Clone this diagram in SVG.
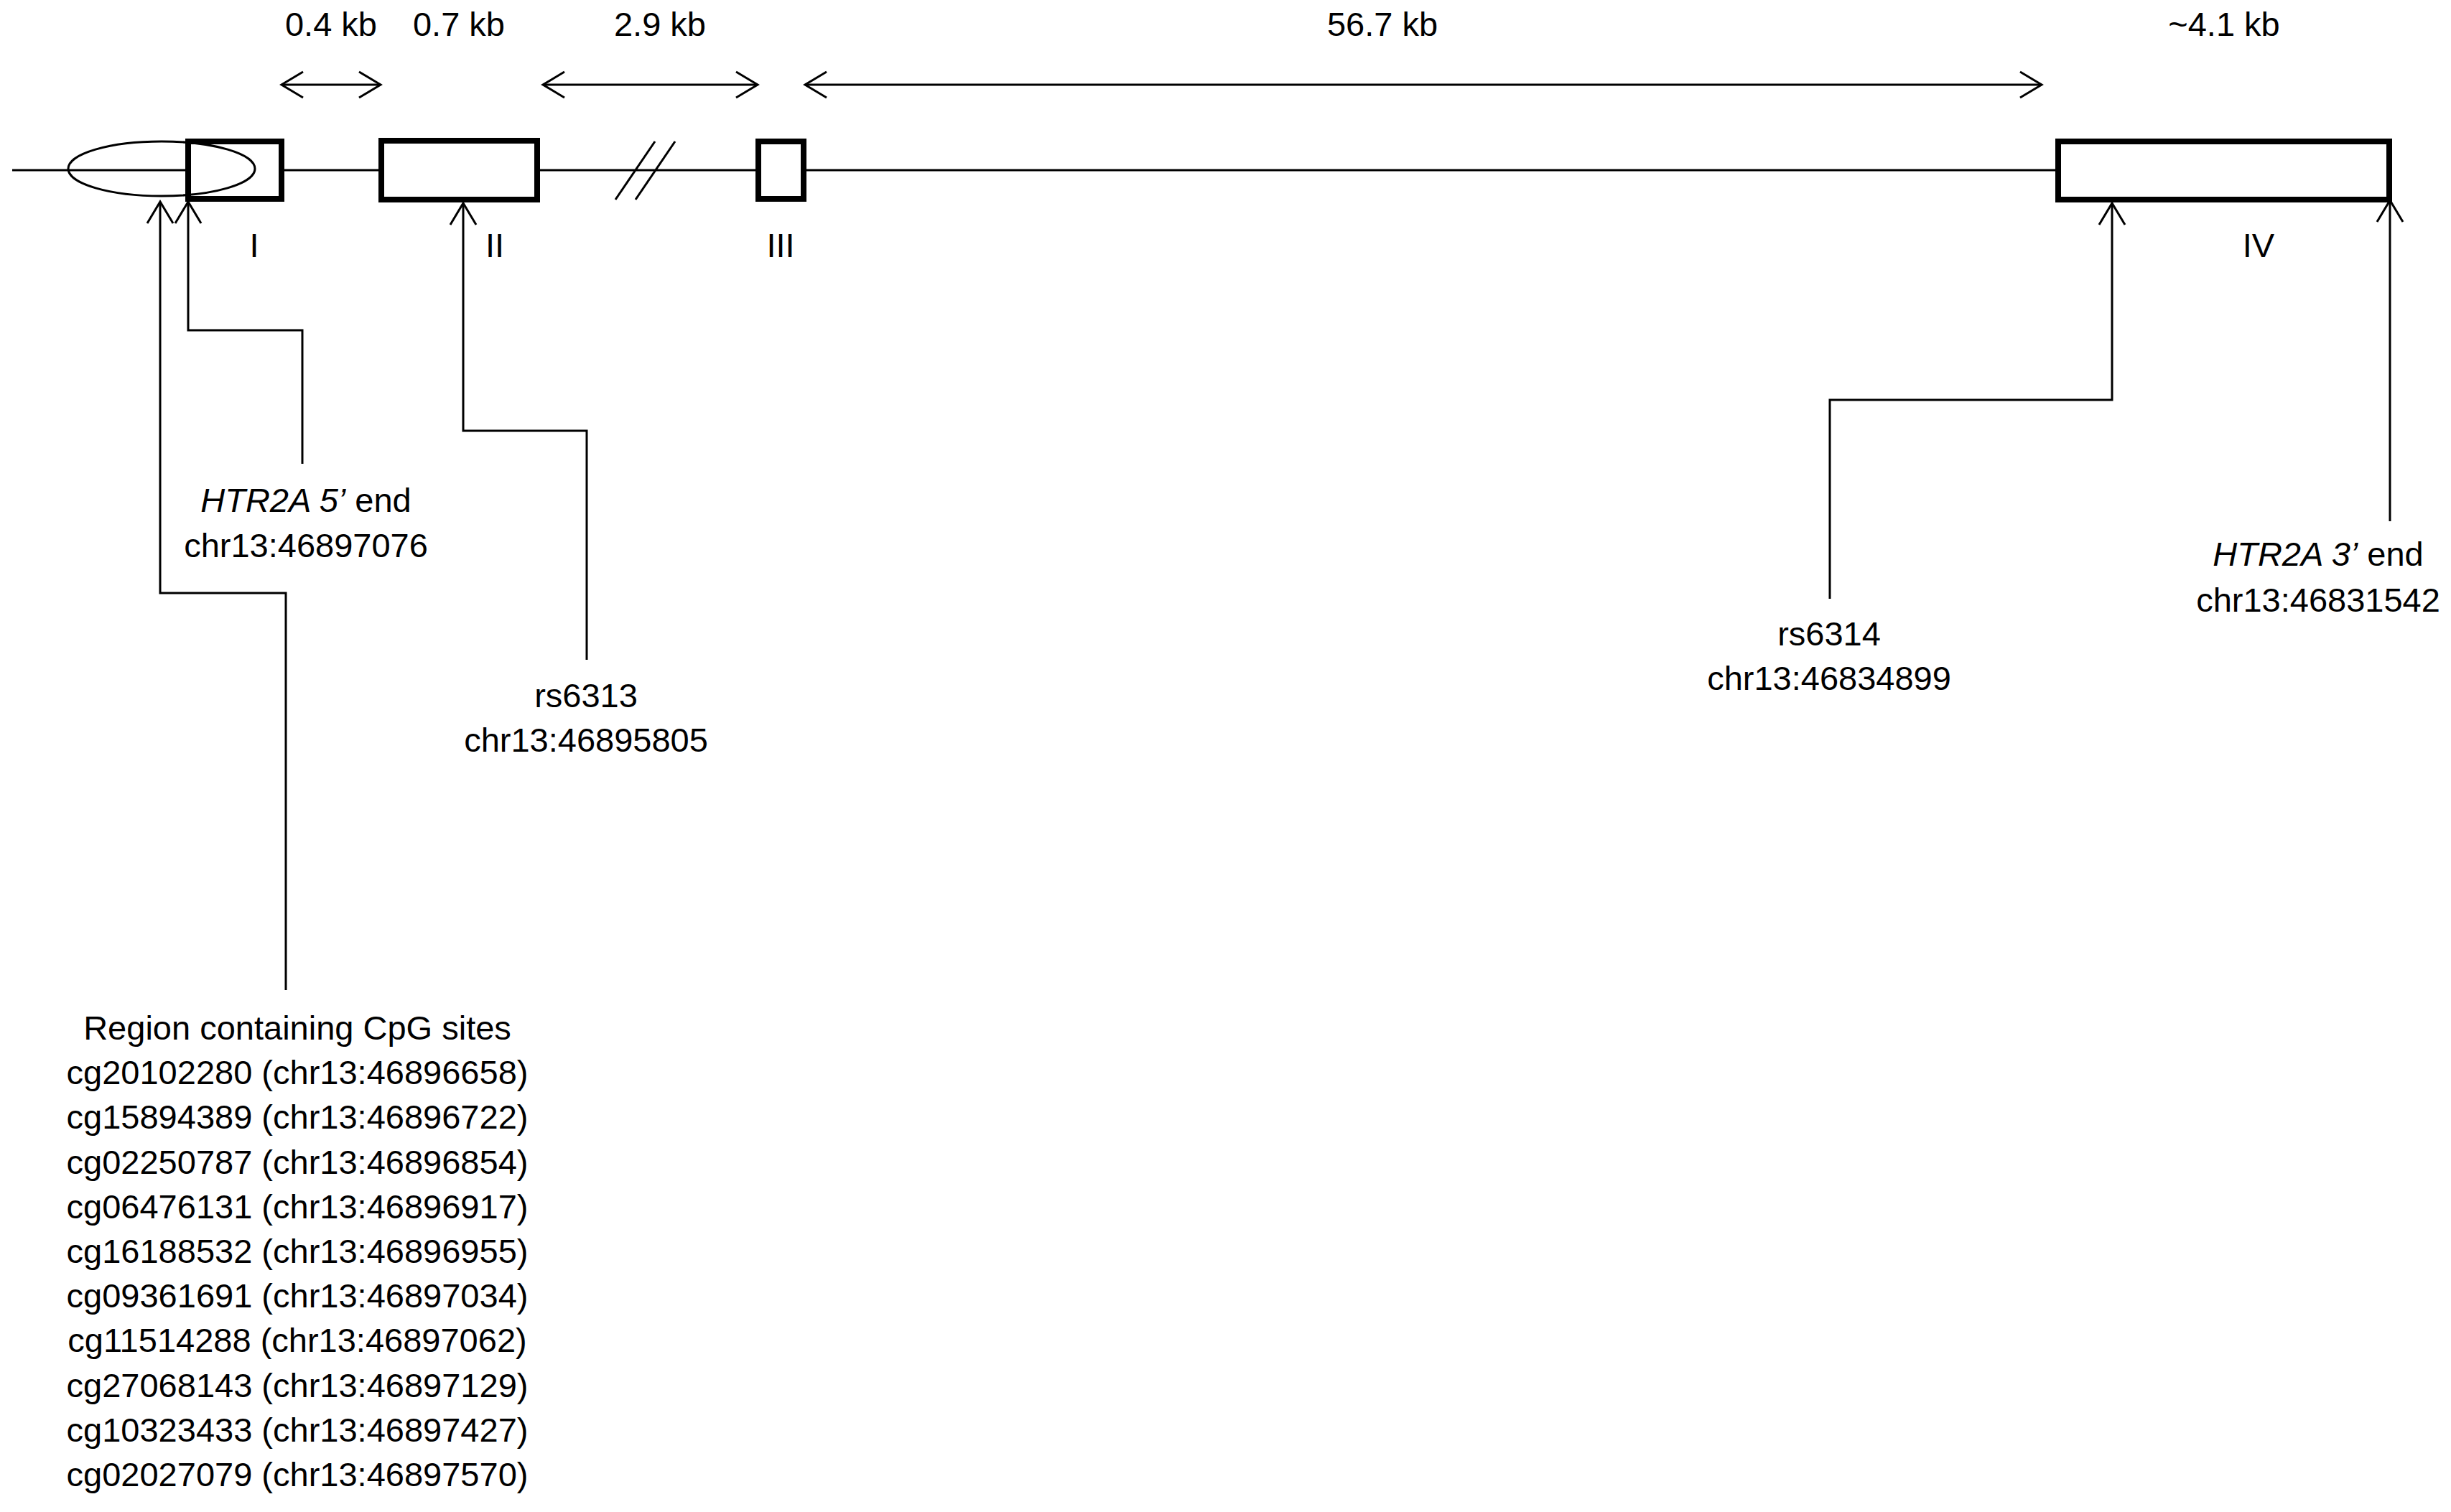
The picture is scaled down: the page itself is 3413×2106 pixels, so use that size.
<svg xmlns="http://www.w3.org/2000/svg" width="3413" height="2106" viewBox="0 0 3413 2106">
<style>
text{font-family:"Liberation Sans",Arial,sans-serif;font-size:47px;fill:#000;text-anchor:middle}
.it{font-style:italic}
.exon{fill:#fff;stroke:#000;stroke-width:8}
.thin{fill:none;stroke:#000;stroke-width:3}
.conn{fill:none;stroke:#000;stroke-width:3}
</style>
<defs>
<marker id="ah" markerUnits="userSpaceOnUse" markerWidth="40" markerHeight="44" viewBox="-34 -22 40 44" refX="0" refY="0" orient="auto-start-reverse">
<path d="M-30,-18 L0,0 L-30,18" fill="none" stroke="#000" stroke-width="3"/>
</marker>
</defs>
<rect width="3413" height="2106" fill="#fff"/>
<g id="backbone">
<line class="thin" x1="17" y1="237" x2="2862" y2="237"/>
<line class="thin" x1="857" y1="278" x2="912" y2="197"/>
<line class="thin" x1="885" y1="278" x2="940" y2="197"/>
</g>
<g id="exon-I"><rect class="exon" x="262" y="197" width="130" height="80"/><text x="354" y="358">I</text></g>
<g id="cpg-region"><ellipse class="thin" cx="225" cy="235" rx="130" ry="38"/></g>
<g id="exon-II"><rect class="exon" x="531" y="196" width="217" height="82"/><text x="689" y="358">II</text></g>
<g id="exon-III"><rect class="exon" x="1056" y="197" width="63" height="80"/><text x="1087" y="358">III</text></g>
<g id="exon-IV"><rect class="exon" x="2866" y="197" width="461" height="81"/><text x="3145" y="358">IV</text></g>
<g id="sizes">
<text x="461" y="50">0.4 kb</text>
<text x="639" y="50">0.7 kb</text>
<text x="919" y="50">2.9 kb</text>
<text x="1925" y="50">56.7 kb</text>
<text x="3097" y="50">~4.1 kb</text>
</g>
<g id="label-5end"><text x="426" y="713"><tspan class="it">HTR2A 5’</tspan> end</text><text x="426" y="776">chr13:46897076</text></g>
<g id="label-rs6313"><text x="816" y="985">rs6313</text><text x="816" y="1047">chr13:46895805</text></g>
<g id="label-rs6314"><text x="2547" y="899">rs6314</text><text x="2547" y="961">chr13:46834899</text></g>
<g id="label-3end"><text x="3228" y="788"><tspan class="it">HTR2A 3’</tspan> end</text><text x="3228" y="852">chr13:46831542</text></g>
<g id="label-cpg">
<text x="414" y="1448">Region containing CpG sites</text>
<text x="414" y="1510">cg20102280 (chr13:46896658)</text>
<text x="414" y="1572">cg15894389 (chr13:46896722)</text>
<text x="414" y="1635">cg02250787 (chr13:46896854)</text>
<text x="414" y="1697">cg06476131 (chr13:46896917)</text>
<text x="414" y="1759">cg16188532 (chr13:46896955)</text>
<text x="414" y="1821">cg09361691 (chr13:46897034)</text>
<text x="414" y="1883">cg11514288 (chr13:46897062)</text>
<text x="414" y="1946">cg27068143 (chr13:46897129)</text>
<text x="414" y="2008">cg10323433 (chr13:46897427)</text>
<text x="414" y="2070">cg02027079 (chr13:46897570)</text>
</g>
<g id="connectors">
<line class="conn" x1="392" y1="118" x2="530" y2="118" marker-start="url(#ah)" marker-end="url(#ah)"/>
<line class="conn" x1="756" y1="118" x2="1055" y2="118" marker-start="url(#ah)" marker-end="url(#ah)"/>
<line class="conn" x1="1121" y1="118" x2="2843" y2="118" marker-start="url(#ah)" marker-end="url(#ah)"/>
<polyline class="conn" points="398,1379 398,826 223,826 223,281" marker-end="url(#ah)"/>
<polyline class="conn" points="421,646 421,460 262,460 262,281" marker-end="url(#ah)"/>
<polyline class="conn" points="817,919 817,600 645,600 645,283" marker-end="url(#ah)"/>
<polyline class="conn" points="2548,834 2548,557 2941,557 2941,283" marker-end="url(#ah)"/>
<polyline class="conn" points="3328,726 3328,279" marker-end="url(#ah)"/>
</g>
</svg>
